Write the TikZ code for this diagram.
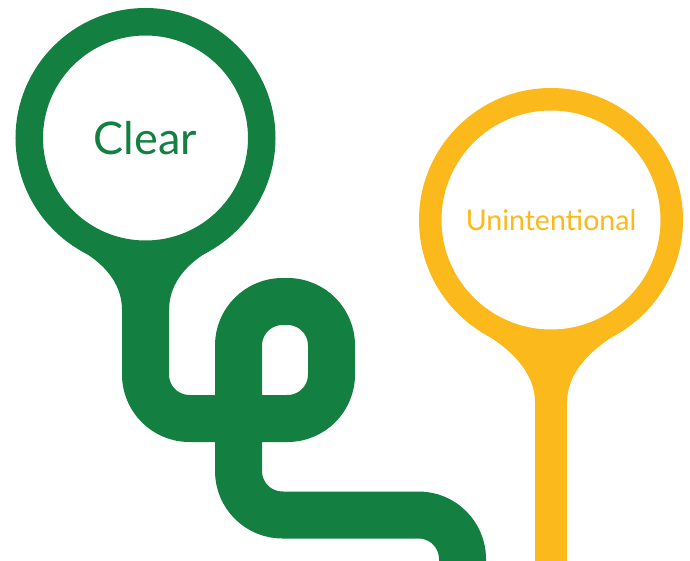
\documentclass[tikz,border=0pt]{standalone}
\usepackage{fontspec}
\setmainfont{Lato}
\usepackage{xcolor}
\usepackage{tikz}

\definecolor{cleargreen}{RGB}{19,127,64}
\definecolor{unintyellow}{RGB}{251,185,28}

\tikzset{
    ring/.style={circle, fill=white, draw=#1, text=#1, inner sep=0pt},
    stem/.style={#1, line cap=butt}
}

\begin{document}
\begin{tikzpicture}[x=1pt, y=-1pt]
            \useasboundingbox (0, 0) rectangle (690, 561);
            \clip (0, 0) rectangle (690, 561);

            \coordinate (clearc) at (145.5, 138);
            \coordinate (unintc) at (551, 220);

            \draw[stem=cleargreen, line width=47pt, rounded corners=44pt]
                (clearc) -- (145.5, 418.5) -- (331.5, 418.5) -- (331.5, 301.5)
                -- (238.5, 301.5) -- (238.5, 515) -- (462.5, 515) -- (462.5, 620);
            \fill[cleargreen] (80, 250) .. controls (102, 262) and (122, 282) .. (122, 310)
                -- (169, 310) .. controls (169, 282) and (189, 262) .. (211, 250)
                -- (clearc) -- cycle;
            \node[ring=cleargreen, line width=27.5pt, minimum size=232.5pt,
                font=\fontsize{45}{54}\selectfont] (clear) at (clearc) {Clear};

            \draw[stem=unintyellow, line width=32pt] (unintc) -- (551, 620);
            \fill[unintyellow] (480, 331) .. controls (510, 348) and (535, 372) .. (535, 402)
                -- (567, 402) .. controls (567, 372) and (592, 348) .. (622, 331)
                -- (unintc) -- cycle;
            \node[ring=unintyellow, line width=22.5pt, minimum size=241.5pt,
                font=\fontsize{28.5}{34}\selectfont] (unint) at (unintc) {Unintentional};
        \end{tikzpicture}
\end{document}
